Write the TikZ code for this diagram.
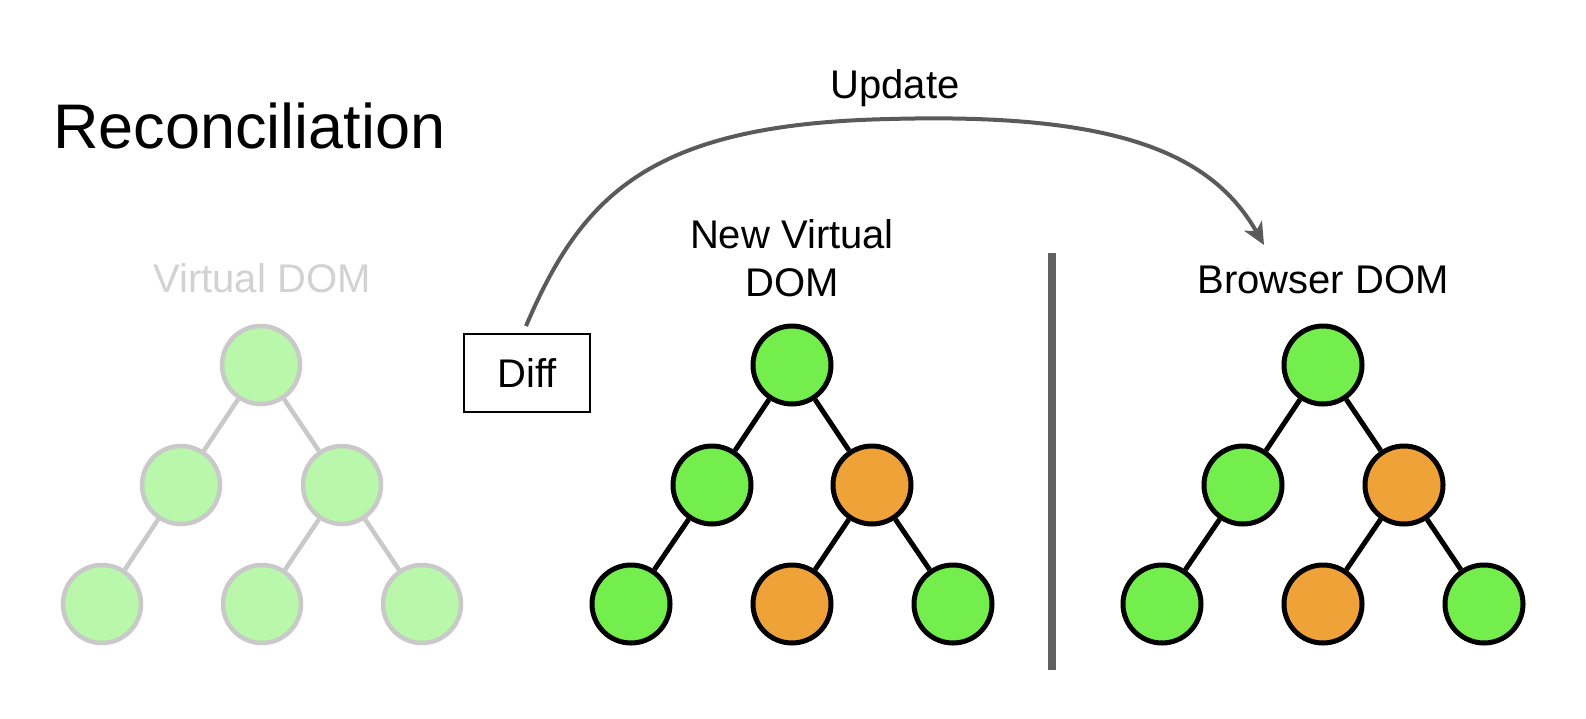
\documentclass[tikz,border=0pt]{standalone}
\usepackage{fontspec}
\setmainfont{Liberation Sans}
\usetikzlibrary{arrows.meta}
\definecolor{nodegreen}{HTML}{74EE4C}
\definecolor{nodeorange}{HTML}{EFA238}
\definecolor{palegreen}{HTML}{B9F7AA}
\definecolor{palegray}{HTML}{C9C9C9}
\definecolor{paletext}{HTML}{D2D2D2}
\definecolor{arrowgray}{HTML}{5A5A5A}
\definecolor{bargray}{HTML}{606060}
\begin{document}
\begin{tikzpicture}[x=1pt,y=-1pt,
  dnode/.style={circle,draw=black,line width=5pt,minimum size=78pt,inner sep=0pt,fill=nodegreen},
  onode/.style={dnode,fill=nodeorange},
  pnode/.style={circle,draw=palegray,line width=4.5pt,minimum size=78pt,inner sep=0pt,fill=palegreen},
  dedge/.style={line width=5pt,draw=black},
  pedge/.style={line width=4.5pt,draw=palegray},
  lbl/.style={font=\fontsize{40}{48}\selectfont,inner sep=0pt,anchor=base},
  diffbox/.style={draw=black,line width=2pt,minimum width=126pt,minimum height=78pt,inner sep=0pt,font=\fontsize{40}{48}\selectfont},
  updarrow/.style={line width=4pt,draw=arrowgray,-{Stealth[length=22pt,width=20pt,inset=6pt]}},
 ]
\useasboundingbox (0,0) rectangle (1586,718);
\fill[white] (0,0) rectangle (1586,718);

% title
\node[font=\fontsize{63}{70}\selectfont,inner sep=0pt,anchor=base west] (title) at (53,148) {Reconciliation};

% labels
\node[lbl,text=paletext] (vdom) at (262,292) {Virtual DOM};
\node[lbl] (nvd1) at (792,248) {New Virtual};
\node[lbl] (nvd2) at (792,296) {DOM};
\node[lbl] (bdom) at (1323,293) {Browser DOM};
\node[lbl] (upd) at (895,98) {Update};

% diff box
\node[diffbox] (diff) at (527,373) {Diff};

% separator bar
\coordinate (bartop) at (1052,253);
\coordinate (barbot) at (1052,670);
\draw[line width=8pt,draw=bargray] (bartop) -- (barbot);

% update arrow
\coordinate (cstart) at (526,326);
\coordinate (ctop) at (890,119);
\coordinate (cend) at (1264,245);
\draw[updarrow] (cstart) .. controls (582,195) and (650,124) .. (ctop)
  .. controls (1110,113) and (1210,150) .. (cend);

% left (pale) tree
\node[pnode] (a1) at (261,365) {};
\node[pnode] (a2) at (181,485) {};
\node[pnode] (a3) at (342,485) {};
\node[pnode] (a4) at (102,604) {};
\node[pnode] (a5) at (262,604) {};
\node[pnode] (a6) at (422,604) {};
\draw[pedge] (a1) -- (a2);
\draw[pedge] (a1) -- (a3);
\draw[pedge] (a2) -- (a4);
\draw[pedge] (a3) -- (a5);
\draw[pedge] (a3) -- (a6);

% middle tree
\node[dnode] (b1) at (792,365) {};
\node[dnode] (b2) at (712,485) {};
\node[onode] (b3) at (872,485) {};
\node[dnode] (b4) at (631,604) {};
\node[onode] (b5) at (792,604) {};
\node[dnode] (b6) at (953,604) {};
\draw[dedge] (b1) -- (b2);
\draw[dedge] (b1) -- (b3);
\draw[dedge] (b2) -- (b4);
\draw[dedge] (b3) -- (b5);
\draw[dedge] (b3) -- (b6);

% right tree
\node[dnode] (c1) at (1323,365) {};
\node[dnode] (c2) at (1243,485) {};
\node[onode] (c3) at (1404,485) {};
\node[dnode] (c4) at (1162,604) {};
\node[onode] (c5) at (1323,604) {};
\node[dnode] (c6) at (1484,604) {};
\draw[dedge] (c1) -- (c2);
\draw[dedge] (c1) -- (c3);
\draw[dedge] (c2) -- (c4);
\draw[dedge] (c3) -- (c5);
\draw[dedge] (c3) -- (c6);
\end{tikzpicture}
\end{document}
